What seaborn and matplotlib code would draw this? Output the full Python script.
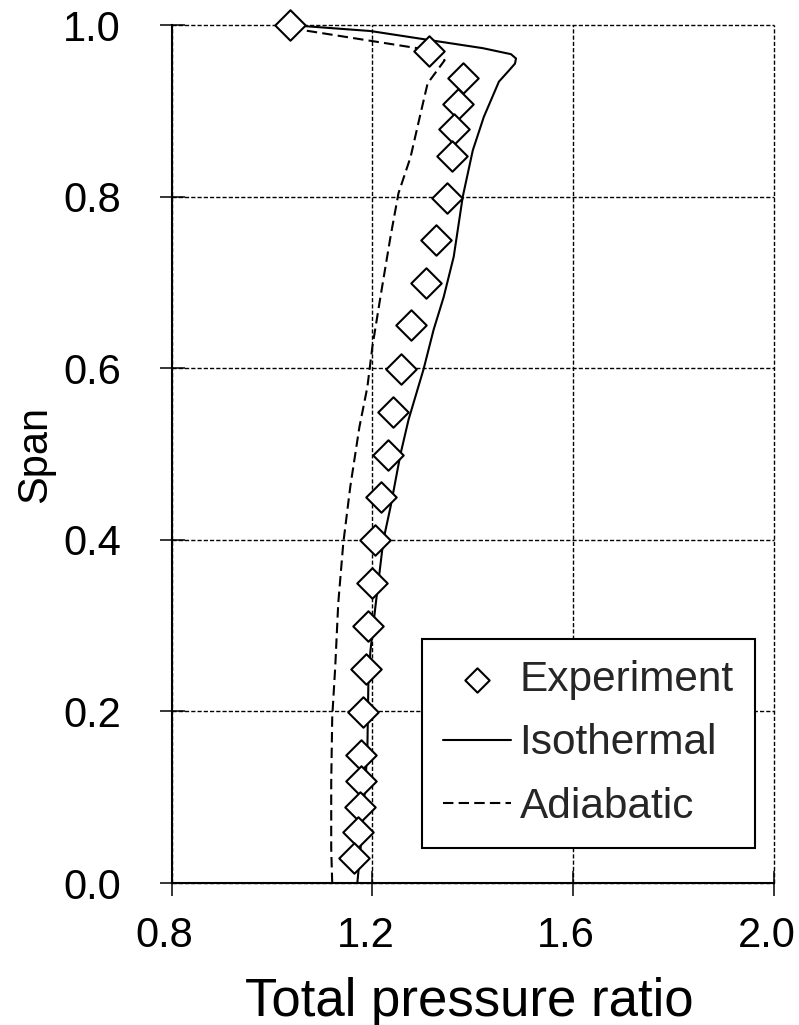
import numpy as np
import pandas as pd
import seaborn as sns
import matplotlib.pyplot as plt
import matplotlib.transforms as mtransforms

# Experiment (diamonds)
exp_ratio = [1.035, 1.312, 1.38, 1.37, 1.362, 1.358, 1.348, 1.326, 1.306, 1.276,
             1.256, 1.242, 1.232, 1.218, 1.206, 1.200, 1.192, 1.188, 1.182, 1.178,
             1.178, 1.176, 1.172, 1.164]
exp_span = [1.0, 0.970, 0.938, 0.908, 0.879, 0.847, 0.798, 0.749, 0.699, 0.650,
            0.599, 0.549, 0.499, 0.450, 0.400, 0.350, 0.300, 0.249, 0.199, 0.149,
            0.119, 0.089, 0.059, 0.029]

# Isothermal (solid)
iso_span = [0.0, 0.05, 0.10, 0.155, 0.233, 0.27, 0.322, 0.40, 0.438, 0.50,
            0.54, 0.599, 0.645, 0.683, 0.73, 0.80, 0.854, 0.893, 0.934, 0.947,
            0.955, 0.961, 0.966, 0.973, 0.981, 0.993, 1.0]
iso_ratio = [1.170, 1.178, 1.184, 1.190, 1.192, 1.196, 1.206, 1.222, 1.236, 1.256,
             1.272, 1.302, 1.322, 1.342, 1.362, 1.380, 1.400, 1.422, 1.452, 1.472,
             1.484, 1.486, 1.476, 1.420, 1.330, 1.196, 1.035]

# Adiabatic (dashed)
adi_span = [0.0, 0.04, 0.117, 0.193, 0.252, 0.326, 0.396, 0.462, 0.531, 0.578,
            0.625, 0.683, 0.753, 0.804, 0.846, 0.897, 0.932, 0.959, 0.972, 0.994, 1.0]
adi_ratio = [1.120, 1.118, 1.118, 1.120, 1.126, 1.132, 1.142, 1.156, 1.174, 1.190,
             1.200, 1.216, 1.236, 1.252, 1.276, 1.296, 1.310, 1.344, 1.300, 1.062, 1.035]

sns.set_style("ticks")
plt.rcParams['font.family'] = ['Liberation Sans', 'DejaVu Sans']

fig = plt.figure(figsize=(7.99, 10.25), dpi=100)
ax = fig.add_axes([0.2147, 0.1385, 0.7541, 0.8371])

sns.lineplot(x=iso_ratio, y=iso_span, sort=False, estimator=None, color='black',
             linewidth=1.5, ax=ax, label='Isothermal', zorder=3)
sns.lineplot(x=adi_ratio, y=adi_span, sort=False, estimator=None, color='black',
             linewidth=1.5, ax=ax, label='Adiabatic', zorder=3)
ax.lines[1].set_dashes([5, 2.5])
sns.scatterplot(x=exp_ratio, y=exp_span, marker='D', s=15.5 ** 2, facecolor='white',
                edgecolor='black', linewidth=1.5, ax=ax, label='Experiment',
                zorder=4, clip_on=False)

ax.set_xlim(0.8, 2.0)
ax.set_ylim(0, 1.0)
ax.set_xticks([0.8, 1.2, 1.6, 2.0])
ax.set_xticklabels(['0.8', '1.2', '1.6', '2.0'])
ax.set_yticks([0.0, 0.2, 0.4, 0.6, 0.8, 1.0])
ax.set_yticklabels(['0.0', '0.2', '0.4', '0.6', '0.8', '1.0'])
ax.tick_params(direction='inout', length=18, width=1.1, labelsize=30,
               color='black', labelcolor='black')
ax.tick_params(axis='x', pad=15)
ax.tick_params(axis='y', pad=27.5)
shift = mtransforms.ScaledTranslation(-7 / 100, 0, fig.dpi_scale_trans)
for lab in ax.get_xticklabels():
    lab.set_transform(lab.get_transform() + shift)

ax.grid(True, color='black', linestyle=(0, (3, 1.5)), linewidth=1.0)
for gl in ax.get_xgridlines() + ax.get_ygridlines():
    gl.set_clip_on(False)
ax.set_axisbelow(True)
for side in ['top', 'right']:
    ax.spines[side].set_visible(False)
for side in ['left', 'bottom']:
    ax.spines[side].set_color('black')
    ax.spines[side].set_linewidth(1.5)

ax.set_xlabel('Total pressure ratio', fontsize=38, color='black')
ax.xaxis.set_label_coords(0.495, -0.109)
ax.set_ylabel('Span', fontsize=30, color='black')
ax.yaxis.set_label_coords(-0.193, 0.5)

h, l = ax.get_legend_handles_labels()
order = [l.index('Experiment'), l.index('Isothermal'), l.index('Adiabatic')]
leg = ax.legend([h[i] for i in order], [l[i] for i in order], loc='lower right',
                bbox_to_anchor=(0.968, 0.041), fontsize=30.5, frameon=True,
                fancybox=False, edgecolor='black', framealpha=1, markerscale=0.8,
                handlelength=1.6, handletextpad=0.2, labelspacing=0.55,
                borderpad=0.5, borderaxespad=0)
leg.get_frame().set_linewidth(1.5)

fig.savefig('out.png', dpi=100)
